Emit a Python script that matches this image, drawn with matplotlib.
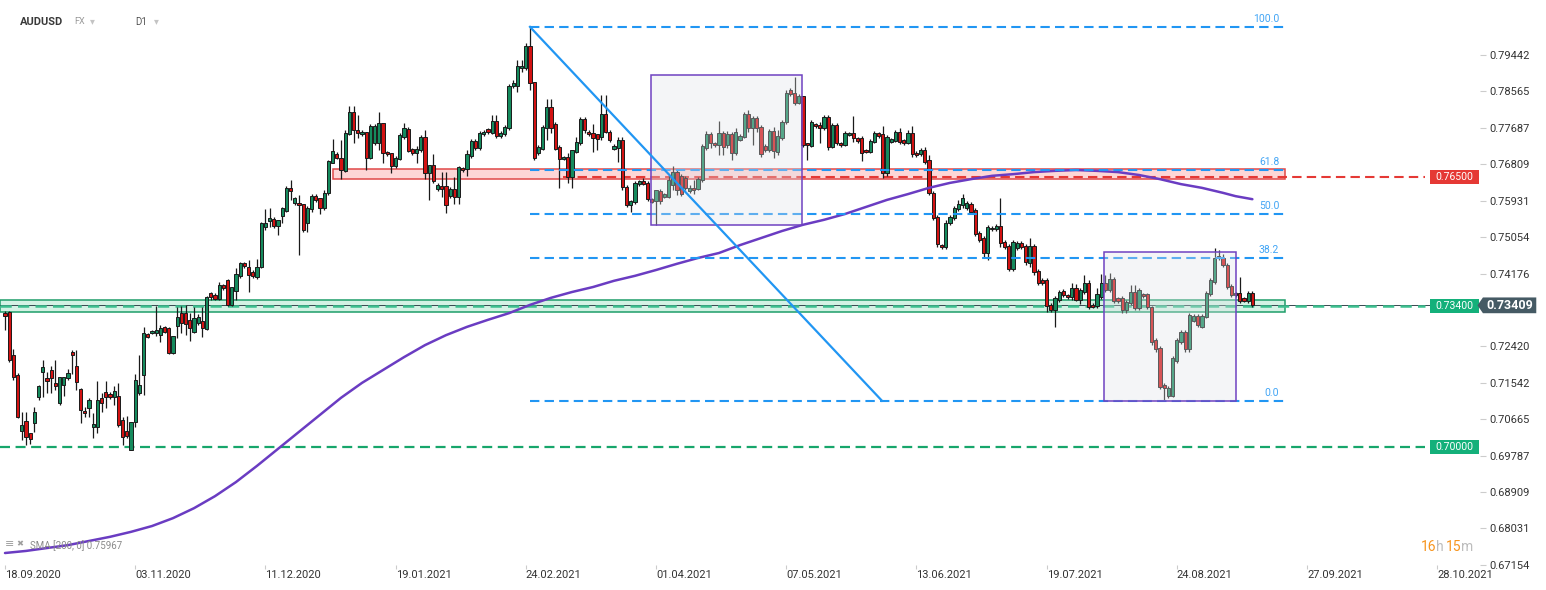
"""AUDUSD D1 candlestick chart with Fibonacci levels, zones and SMA 200."""
import matplotlib
matplotlib.use("Agg")
import matplotlib.pyplot as plt
import numpy as np
from matplotlib.patches import Rectangle, Polygon

plt.rcParams['font.family'] = ['Roboto', 'DejaVu Sans']

# ---- daily candles (one entry per bar, Sunday bars included) ----
opens = [
    0.7323, 0.7325, 0.7221, 0.7173, 0.7038, 0.7062, 0.7033, 0.7057, 0.7120, 0.7180, 0.7166, 0.7185,
    0.7154, 0.7106, 0.7149, 0.7166, 0.7229, 0.7195, 0.7139, 0.7086, 0.7094, 0.7048, 0.7048, 0.7118,
    0.7132, 0.7127, 0.7120, 0.7122, 0.7065, 0.7038, 0.6992, 0.7060, 0.7130, 0.7173, 0.7272, 0.7274,
    0.7274, 0.7270, 0.7289, 0.7286, 0.7226, 0.7291, 0.7323, 0.7323, 0.7306, 0.7277, 0.7298, 0.7303,
    0.7284, 0.7371, 0.7366, 0.7356, 0.7390, 0.7402, 0.7342, 0.7376, 0.7412, 0.7443, 0.7433, 0.7421,
    0.7409, 0.7433, 0.7530, 0.7544, 0.7549, 0.7532, 0.7556, 0.7568, 0.7624, 0.7588, 0.7588, 0.7585,
    0.7539, 0.7573, 0.7604, 0.7600, 0.7576, 0.7612, 0.7684, 0.7706, 0.7696, 0.7665, 0.7754, 0.7807,
    0.7764, 0.7754, 0.7759, 0.7696, 0.7732, 0.7732, 0.7780, 0.7711, 0.7708, 0.7677, 0.7694, 0.7747,
    0.7766, 0.7718, 0.7708, 0.7715, 0.7747, 0.7660, 0.7679, 0.7621, 0.7629, 0.7629, 0.7604, 0.7621,
    0.7602, 0.7672, 0.7670, 0.7701, 0.7737, 0.7720, 0.7754, 0.7766, 0.7756, 0.7785, 0.7749, 0.7754,
    0.7768, 0.7870, 0.7870, 0.7913, 0.7913, 0.7966, 0.7879, 0.7708, 0.7718, 0.7768, 0.7819, 0.7778,
    0.7723, 0.7694, 0.7698, 0.7650, 0.7711, 0.7732, 0.7790, 0.7759, 0.7756, 0.7754, 0.7747, 0.7802,
    0.7759, 0.7718, 0.7720, 0.7739, 0.7626, 0.7583, 0.7590, 0.7633, 0.7641, 0.7636, 0.7597, 0.7592,
    0.7616, 0.7602, 0.7602, 0.7631, 0.7662, 0.7653, 0.7648, 0.7616, 0.7624, 0.7621, 0.7643, 0.7720,
    0.7754, 0.7732, 0.7727, 0.7756, 0.7727, 0.7754, 0.7708, 0.7739, 0.7747, 0.7802, 0.7768, 0.7792,
    0.7771, 0.7725, 0.7715, 0.7761, 0.7711, 0.7744, 0.7783, 0.7860, 0.7853, 0.7829, 0.7845, 0.7732,
    0.7725, 0.7778, 0.7776, 0.7768, 0.7795, 0.7723, 0.7776, 0.7732, 0.7727, 0.7752, 0.7756, 0.7744,
    0.7744, 0.7715, 0.7711, 0.7735, 0.7756, 0.7754, 0.7660, 0.7735, 0.7737, 0.7759, 0.7739, 0.7732,
    0.7756, 0.7708, 0.7706, 0.7715, 0.7691, 0.7612, 0.7554, 0.7486, 0.7482, 0.7539, 0.7551, 0.7573,
    0.7583, 0.7576, 0.7585, 0.7571, 0.7515, 0.7503, 0.7467, 0.7525, 0.7525, 0.7532, 0.7494, 0.7484,
    0.7429, 0.7479, 0.7491, 0.7484, 0.7443, 0.7484, 0.7424, 0.7402, 0.7402, 0.7342, 0.7330, 0.7354,
    0.7376, 0.7366, 0.7361, 0.7383, 0.7354, 0.7373, 0.7395, 0.7342, 0.7339, 0.7361, 0.7395, 0.7378,
    0.7404, 0.7359, 0.7359, 0.7330, 0.7347, 0.7373, 0.7335, 0.7368, 0.7368, 0.7337, 0.7257, 0.7238,
    0.7149, 0.7122, 0.7122, 0.7207, 0.7253, 0.7277, 0.7236, 0.7303, 0.7315, 0.7289, 0.7313, 0.7368,
    0.7397, 0.7460, 0.7455, 0.7438, 0.7388, 0.7371, 0.7371, 0.7359, 0.7351, 0.7371,
]
closes = [
    0.7315, 0.7209, 0.7168, 0.7072, 0.7053, 0.7024, 0.7019, 0.7084, 0.7147, 0.7192, 0.7159, 0.7166,
    0.7147, 0.7168, 0.7168, 0.7178, 0.7221, 0.7156, 0.7089, 0.7082, 0.7113, 0.7055, 0.7113, 0.7106,
    0.7120, 0.7120, 0.7135, 0.7053, 0.7024, 0.7026, 0.7060, 0.7161, 0.7149, 0.7274, 0.7265, 0.7279,
    0.7282, 0.7286, 0.7277, 0.7226, 0.7267, 0.7313, 0.7298, 0.7296, 0.7286, 0.7310, 0.7313, 0.7286,
    0.7361, 0.7361, 0.7356, 0.7390, 0.7383, 0.7342, 0.7385, 0.7417, 0.7443, 0.7436, 0.7414, 0.7412,
    0.7433, 0.7539, 0.7539, 0.7551, 0.7532, 0.7547, 0.7576, 0.7624, 0.7616, 0.7600, 0.7583, 0.7523,
    0.7576, 0.7604, 0.7595, 0.7576, 0.7612, 0.7689, 0.7713, 0.7696, 0.7667, 0.7756, 0.7807, 0.7764,
    0.7756, 0.7759, 0.7696, 0.7773, 0.7773, 0.7780, 0.7708, 0.7706, 0.7677, 0.7696, 0.7752, 0.7768,
    0.7713, 0.7708, 0.7718, 0.7747, 0.7660, 0.7679, 0.7641, 0.7631, 0.7621, 0.7583, 0.7621, 0.7602,
    0.7674, 0.7667, 0.7706, 0.7737, 0.7720, 0.7756, 0.7759, 0.7759, 0.7785, 0.7749, 0.7756, 0.7771,
    0.7870, 0.7877, 0.7918, 0.7918, 0.7966, 0.7877, 0.7696, 0.7723, 0.7771, 0.7819, 0.7768, 0.7718,
    0.7694, 0.7698, 0.7650, 0.7715, 0.7735, 0.7790, 0.7764, 0.7754, 0.7744, 0.7742, 0.7802, 0.7759,
    0.7739, 0.7725, 0.7739, 0.7626, 0.7583, 0.7592, 0.7636, 0.7641, 0.7633, 0.7597, 0.7590, 0.7619,
    0.7592, 0.7609, 0.7643, 0.7662, 0.7619, 0.7609, 0.7624, 0.7624, 0.7619, 0.7645, 0.7725, 0.7754,
    0.7732, 0.7727, 0.7756, 0.7723, 0.7754, 0.7708, 0.7759, 0.7749, 0.7802, 0.7768, 0.7792, 0.7768,
    0.7706, 0.7715, 0.7761, 0.7713, 0.7749, 0.7783, 0.7853, 0.7850, 0.7829, 0.7845, 0.7727, 0.7727,
    0.7783, 0.7773, 0.7768, 0.7795, 0.7723, 0.7776, 0.7732, 0.7727, 0.7756, 0.7756, 0.7744, 0.7737,
    0.7708, 0.7711, 0.7737, 0.7756, 0.7749, 0.7660, 0.7747, 0.7742, 0.7759, 0.7735, 0.7732, 0.7756,
    0.7706, 0.7703, 0.7715, 0.7686, 0.7612, 0.7551, 0.7489, 0.7482, 0.7539, 0.7554, 0.7576, 0.7585,
    0.7600, 0.7588, 0.7566, 0.7513, 0.7498, 0.7467, 0.7530, 0.7527, 0.7532, 0.7491, 0.7482, 0.7429,
    0.7494, 0.7491, 0.7482, 0.7445, 0.7484, 0.7421, 0.7395, 0.7395, 0.7339, 0.7330, 0.7359, 0.7373,
    0.7366, 0.7361, 0.7383, 0.7354, 0.7378, 0.7395, 0.7337, 0.7337, 0.7368, 0.7395, 0.7378, 0.7404,
    0.7351, 0.7351, 0.7330, 0.7349, 0.7373, 0.7335, 0.7378, 0.7363, 0.7337, 0.7253, 0.7236, 0.7144,
    0.7142, 0.7142, 0.7214, 0.7257, 0.7277, 0.7236, 0.7318, 0.7315, 0.7294, 0.7315, 0.7371, 0.7402,
    0.7455, 0.7455, 0.7438, 0.7385, 0.7366, 0.7366, 0.7351, 0.7351, 0.7371, 0.73409,
]
highs = [
    0.7327, 0.7327, 0.7236, 0.7178, 0.7084, 0.7084, 0.7033, 0.7096, 0.7149, 0.7209, 0.7180, 0.7195,
    0.7209, 0.7168, 0.7168, 0.7188, 0.7233, 0.7233, 0.7142, 0.7096, 0.7118, 0.7082, 0.7159, 0.7130,
    0.7159, 0.7132, 0.7147, 0.7154, 0.7072, 0.7074, 0.7060, 0.7176, 0.7221, 0.7289, 0.7274, 0.7282,
    0.7339, 0.7294, 0.7291, 0.7289, 0.7267, 0.7337, 0.7339, 0.7342, 0.7323, 0.7337, 0.7320, 0.7337,
    0.7363, 0.7373, 0.7371, 0.7397, 0.7392, 0.7404, 0.7385, 0.7431, 0.7445, 0.7445, 0.7450, 0.7426,
    0.7453, 0.7542, 0.7573, 0.7576, 0.7554, 0.7547, 0.7578, 0.7629, 0.7643, 0.7602, 0.7607, 0.7585,
    0.7580, 0.7609, 0.7609, 0.7600, 0.7619, 0.7691, 0.7742, 0.7711, 0.7739, 0.7764, 0.7821, 0.7821,
    0.7800, 0.7764, 0.7759, 0.7778, 0.7778, 0.7807, 0.7780, 0.7713, 0.7708, 0.7701, 0.7756, 0.7780,
    0.7771, 0.7720, 0.7725, 0.7752, 0.7764, 0.7679, 0.7706, 0.7636, 0.7662, 0.7662, 0.7626, 0.7650,
    0.7677, 0.7674, 0.7715, 0.7742, 0.7742, 0.7761, 0.7764, 0.7768, 0.7800, 0.7800, 0.7761, 0.7776,
    0.7874, 0.7884, 0.7932, 0.7932, 0.7973, 0.8012, 0.7879, 0.7727, 0.7776, 0.7838, 0.7838, 0.7783,
    0.7727, 0.7701, 0.7708, 0.7715, 0.7747, 0.7795, 0.7795, 0.7764, 0.7778, 0.7754, 0.7848, 0.7848,
    0.7764, 0.7730, 0.7747, 0.7747, 0.7631, 0.7595, 0.7641, 0.7643, 0.7648, 0.7641, 0.7600, 0.7619,
    0.7621, 0.7612, 0.7655, 0.7677, 0.7667, 0.7657, 0.7653, 0.7631, 0.7643, 0.7650, 0.7730, 0.7761,
    0.7759, 0.7735, 0.7785, 0.7761, 0.7761, 0.7759, 0.7768, 0.7754, 0.7807, 0.7812, 0.7797, 0.7797,
    0.7776, 0.7730, 0.7766, 0.7771, 0.7764, 0.7788, 0.7860, 0.7865, 0.7891, 0.7850, 0.7845, 0.7732,
    0.7788, 0.7780, 0.7783, 0.7800, 0.7800, 0.7780, 0.7780, 0.7735, 0.7761, 0.7759, 0.7797, 0.7747,
    0.7749, 0.7718, 0.7742, 0.7761, 0.7759, 0.7773, 0.7752, 0.7744, 0.7764, 0.7768, 0.7742, 0.7764,
    0.7773, 0.7713, 0.7720, 0.7723, 0.7703, 0.7616, 0.7559, 0.7489, 0.7547, 0.7559, 0.7580, 0.7595,
    0.7609, 0.7592, 0.7590, 0.7576, 0.7520, 0.7508, 0.7535, 0.7532, 0.7537, 0.7600, 0.7498, 0.7489,
    0.7498, 0.7496, 0.7496, 0.7489, 0.7503, 0.7489, 0.7429, 0.7407, 0.7407, 0.7347, 0.7363, 0.7378,
    0.7380, 0.7368, 0.7395, 0.7392, 0.7383, 0.7414, 0.7402, 0.7347, 0.7383, 0.7417, 0.7414, 0.7419,
    0.7409, 0.7361, 0.7363, 0.7354, 0.7390, 0.7390, 0.7383, 0.7371, 0.7371, 0.7339, 0.7262, 0.7243,
    0.7154, 0.7147, 0.7219, 0.7262, 0.7282, 0.7282, 0.7323, 0.7320, 0.7320, 0.7320, 0.7376, 0.7407,
    0.7479, 0.7474, 0.7465, 0.7443, 0.7392, 0.7373, 0.7409, 0.7361, 0.7376, 0.7376,
]
lows = [
    0.7282, 0.7204, 0.7161, 0.7069, 0.7016, 0.7004, 0.7007, 0.7036, 0.7113, 0.7120, 0.7130, 0.7130,
    0.7137, 0.7101, 0.7122, 0.7161, 0.7176, 0.7137, 0.7057, 0.7072, 0.7072, 0.7021, 0.7033, 0.7084,
    0.7094, 0.7115, 0.7101, 0.7048, 0.7004, 0.7021, 0.6992, 0.7048, 0.7125, 0.7125, 0.7262, 0.7272,
    0.7267, 0.7253, 0.7274, 0.7224, 0.7224, 0.7262, 0.7274, 0.7270, 0.7255, 0.7274, 0.7294, 0.7265,
    0.7282, 0.7354, 0.7354, 0.7354, 0.7378, 0.7339, 0.7339, 0.7354, 0.7407, 0.7431, 0.7373, 0.7407,
    0.7404, 0.7431, 0.7523, 0.7530, 0.7527, 0.7510, 0.7539, 0.7566, 0.7595, 0.7583, 0.7462, 0.7518,
    0.7518, 0.7566, 0.7590, 0.7561, 0.7571, 0.7607, 0.7684, 0.7694, 0.7645, 0.7662, 0.7752, 0.7732,
    0.7744, 0.7749, 0.7667, 0.7694, 0.7727, 0.7715, 0.7684, 0.7701, 0.7660, 0.7672, 0.7691, 0.7742,
    0.7711, 0.7703, 0.7684, 0.7711, 0.7645, 0.7595, 0.7636, 0.7616, 0.7602, 0.7564, 0.7600, 0.7585,
    0.7585, 0.7662, 0.7653, 0.7696, 0.7715, 0.7715, 0.7749, 0.7754, 0.7754, 0.7744, 0.7744, 0.7749,
    0.7764, 0.7865, 0.7855, 0.7903, 0.7908, 0.7860, 0.7691, 0.7703, 0.7715, 0.7739, 0.7756, 0.7715,
    0.7624, 0.7691, 0.7636, 0.7624, 0.7708, 0.7727, 0.7756, 0.7749, 0.7711, 0.7715, 0.7739, 0.7756,
    0.7735, 0.7715, 0.7686, 0.7619, 0.7578, 0.7566, 0.7585, 0.7629, 0.7631, 0.7592, 0.7588, 0.7535,
    0.7585, 0.7600, 0.7600, 0.7619, 0.7607, 0.7604, 0.7619, 0.7612, 0.7609, 0.7619, 0.7638, 0.7715,
    0.7720, 0.7723, 0.7703, 0.7703, 0.7720, 0.7691, 0.7703, 0.7737, 0.7744, 0.7759, 0.7727, 0.7759,
    0.7698, 0.7711, 0.7711, 0.7696, 0.7703, 0.7739, 0.7778, 0.7845, 0.7824, 0.7826, 0.7723, 0.7691,
    0.7723, 0.7768, 0.7732, 0.7764, 0.7715, 0.7720, 0.7727, 0.7723, 0.7725, 0.7749, 0.7735, 0.7732,
    0.7689, 0.7708, 0.7708, 0.7732, 0.7744, 0.7648, 0.7653, 0.7732, 0.7735, 0.7730, 0.7727, 0.7730,
    0.7698, 0.7698, 0.7701, 0.7682, 0.7607, 0.7547, 0.7482, 0.7477, 0.7477, 0.7535, 0.7547, 0.7568,
    0.7576, 0.7571, 0.7561, 0.7508, 0.7494, 0.7455, 0.7450, 0.7520, 0.7520, 0.7482, 0.7477, 0.7424,
    0.7424, 0.7474, 0.7477, 0.7438, 0.7433, 0.7414, 0.7390, 0.7390, 0.7325, 0.7325, 0.7289, 0.7349,
    0.7361, 0.7356, 0.7354, 0.7351, 0.7344, 0.7368, 0.7332, 0.7335, 0.7335, 0.7356, 0.7373, 0.7373,
    0.7347, 0.7347, 0.7323, 0.7323, 0.7342, 0.7330, 0.7330, 0.7359, 0.7332, 0.7245, 0.7229, 0.7139,
    0.7111, 0.7118, 0.7120, 0.7202, 0.7248, 0.7229, 0.7229, 0.7301, 0.7289, 0.7286, 0.7310, 0.7363,
    0.7392, 0.7450, 0.7433, 0.7380, 0.7361, 0.7361, 0.7347, 0.7349, 0.7347, 0.7337,
]

sma_bars = [0, 5, 10, 15, 20, 25, 30, 35, 40, 45, 50, 55, 60, 65, 70, 75, 80, 85, 90, 95,
            100, 105, 110, 115, 120, 125, 130, 135, 140, 145, 150, 155, 160, 165, 170, 175,
            180, 185, 190, 195, 200, 205, 210, 215, 220, 225, 230, 235, 240, 245, 250, 255,
            260, 265, 270, 275, 280, 285, 290, 293, 297]
sma_vals = [0.6744, 0.6749, 0.6756, 0.6763, 0.6773, 0.6783, 0.6795, 0.6809, 0.6828, 0.6852,
            0.6881, 0.6915, 0.6954, 0.6995, 0.7036, 0.7077, 0.7118, 0.7154, 0.7185, 0.7216,
            0.7245, 0.7269, 0.7289, 0.7306, 0.7322, 0.7342, 0.7359, 0.7373, 0.7385, 0.7400,
            0.7412, 0.7426, 0.7441, 0.7455, 0.7467, 0.7486, 0.7503, 0.7520, 0.7535, 0.7547,
            0.7561, 0.7578, 0.7595, 0.7609, 0.7624, 0.7636, 0.7645, 0.7653, 0.7657, 0.7662,
            0.7665, 0.7667, 0.7665, 0.7662, 0.7655, 0.7645, 0.7633, 0.7624, 0.7612, 0.7604,
            0.75967]

# axis labels
date_labels = ['18.09.2020', '03.11.2020', '11.12.2020', '19.01.2021', '24.02.2021',
               '01.04.2021', '07.05.2021', '13.06.2021', '19.07.2021', '24.08.2021',
               '27.09.2021', '28.10.2021']
price_ticks = [0.79442, 0.78565, 0.77687, 0.76809, 0.75931, 0.75054, 0.74176,
               0.72420, 0.71542, 0.70665, 0.69787, 0.68909, 0.68031, 0.67154]

# drawn levels / objects
fib_high, fib_low = 0.8012, 0.7111
fib_ratios = [1.0, 0.618, 0.5, 0.382, 0.0]
fib_names = ['100.0', '61.8', '50.0', '38.2', '0.0']
trend_bars = [125, 208.8]
resistance = 0.765
support = 0.734
support_low = 0.700
last_price = 0.73409
red_zone = (0.7645, 0.7670)
green_zone = (0.7326, 0.7354)
range_boxes = [(153.9, 189.8, 0.7535, 0.7895), (261.7, 293.0, 0.7111, 0.7470)]

# ---- figure ----
W, H = 1546, 590
fig = plt.figure(figsize=(W / 100, H / 100), dpi=100)
ax = fig.add_axes([0, 25 / H, 1480 / W, 565 / H])
ax.set_xlim(-1.19, 351.2)
ax.set_ylim(0.67151, 0.807675)
for s in ax.spines.values():
    s.set_visible(False)

o = np.array(opens); c = np.array(closes)
hi = np.array(highs); lo = np.array(lows)
x = np.arange(len(c))
up = c >= o
body_lo = np.minimum(o, c)
body_h = np.maximum(np.abs(c - o), 0.00012)

# zones under the candles
ax.add_patch(Rectangle((78, red_zone[0]), 304.8 - 78, red_zone[1] - red_zone[0],
                       facecolor='#fdd6d6', edgecolor='#e04848', lw=1.1, zorder=1.5))
ax.add_patch(Rectangle((-1.2, green_zone[0]), 304.8 + 1.2, green_zone[1] - green_zone[0],
                       facecolor='#d3f2e4', edgecolor='#1e9e6a', lw=1.1, zorder=1.5))

# horizontal levels
ax.plot([-1.2, 351.2], [last_price] * 2, color='#37474f', lw=0.7, zorder=1.8)
ax.plot([132.9, 338.1], [resistance] * 2, color='#e53935', lw=1.5,
        dashes=(4.5, 2.5), zorder=2)
ax.plot([-1.2, 338.1], [support] * 2, color='#3cc08f', lw=1.8,
        dashes=(4.5, 2.5), zorder=2)
ax.plot([-1.2, 338.1], [support_low] * 2, color='#17a66b', lw=1.6,
        dashes=(4.5, 2.5), zorder=2)

# candles
ax.vlines(x, lo, hi, color='#1a1a1a', lw=0.9, zorder=3)
ax.bar(x[up], body_h[up], bottom=body_lo[up], width=0.74, color='#158a5d',
       edgecolor='#1a1a1a', linewidth=0.7, zorder=3.1)
ax.bar(x[~up], body_h[~up], bottom=body_lo[~up], width=0.74, color='#d31212',
       edgecolor='#1a1a1a', linewidth=0.7, zorder=3.1)

# SMA 200
ax.plot(sma_bars, sma_vals, color='#6a3cc2', lw=1.8, zorder=4,
        solid_joinstyle='round', solid_capstyle='round')

# fibonacci retracement
for r, name in zip(fib_ratios, fib_names):
    lvl = fib_low + r * (fib_high - fib_low)
    ax.plot([125, 304.8], [lvl, lvl], color='#2196f3', lw=1.5, dashes=(4.5, 2.5), zorder=4)
    ax.text(303.4, lvl + 0.0006, name, color='#42a5f5', fontsize=7.5,
            ha='right', va='bottom', zorder=6)
ax.plot(trend_bars, [fib_high, fib_low], color='#2196f3', lw=1.6, zorder=6)

# range boxes on top
for x0, x1, y0, y1 in range_boxes:
    ax.add_patch(Rectangle((x0, y0), x1 - x0, y1 - y0, facecolor='#dfe2e7', alpha=0.32,
                           edgecolor='none', zorder=5))
    ax.add_patch(Rectangle((x0, y0), x1 - x0, y1 - y0, facecolor='none',
                           edgecolor='#6f42c1', lw=1.1, zorder=5.1))

# level tags at right
tag_h = 0.0034
for lvl, col, txt in [(resistance, '#e53935', '0.76500'), (support, '#14b07a', '0.73400'),
                      (support_low, '#14b07a', '0.70000')]:
    ax.add_patch(Rectangle((339.3, lvl - tag_h / 2), 11.7, tag_h, facecolor=col,
                           edgecolor='none', zorder=7, clip_on=False))
    ax.text(345.15, lvl, txt, color='white', fontsize=7.5, ha='center', va='center', zorder=8)

# current price marker
ph = 0.0019
ax.add_patch(Polygon([(350.6, last_price), (351.9, last_price + ph), (364.6, last_price + ph),
                      (364.6, last_price - ph), (351.9, last_price - ph)],
                     closed=True, facecolor='#455a64', edgecolor='none', zorder=8, clip_on=False))
ax.text(358.2, last_price, '0.73409', color='white', fontsize=9, fontweight='bold',
        ha='center', va='center', zorder=9, clip_on=False)

# axes ticks
ax.yaxis.tick_right()
ax.set_yticks(price_ticks)
ax.set_yticklabels([f'{v:.5f}' for v in price_ticks])
ax.tick_params(axis='y', direction='out', length=4, width=0.8, color='#cccccc',
               labelsize=8, labelcolor='#333333', pad=3)
ax.set_xticks(range(0, 31 * len(date_labels), 31))
ax.set_xticklabels(date_labels)
for lbl in ax.get_xticklabels():
    lbl.set_horizontalalignment('left')
ax.tick_params(axis='x', direction='out', length=3, width=0.8, color='#cccccc',
               labelsize=8, labelcolor='#333333', pad=0.5)

# header and small texts
fig.text(20 / W, 1 - 22 / H, 'AUDUSD', fontsize=8, fontweight='bold', color='#3a3a3a', va='center')
fig.text(74 / W, 1 - 22 / H, 'FX', fontsize=6.5, color='#9a9a9a', va='center')
fig.text(90 / W, 1 - 21 / H, '\u25be', fontsize=7, color='#c4c4c4', va='center',
         family=['DejaVu Sans'])
fig.text(135 / W, 1 - 22 / H, 'D1', fontsize=7, color='#555555', va='center')
fig.text(154 / W, 1 - 21 / H, '\u25be', fontsize=7, color='#c4c4c4', va='center',
         family=['DejaVu Sans'])

fig.text(5 / W, 1 - 544 / H, '\u2261', fontsize=8, color='#9e9e9e', va='center',
         family=['DejaVu Sans'])
fig.text(16 / W, 1 - 544 / H, '\u2716', fontsize=6, color='#9e9e9e', va='center',
         family=['DejaVu Sans'])
fig.text(30 / W, 1 - 546 / H, 'SMA [200, 0] 0.75967', fontsize=7, color='#8a8a8a', va='center')

for px, txt, col in [(1421, '16', '#f7941d'), (1436, 'h', '#bdbdbd'),
                     (1446, '15', '#f7941d'), (1461, 'm', '#bdbdbd')]:
    fig.text(px / W, 1 - 547 / H, txt, fontsize=10, color=col, va='center')

fig.savefig('out.png', dpi=100)
